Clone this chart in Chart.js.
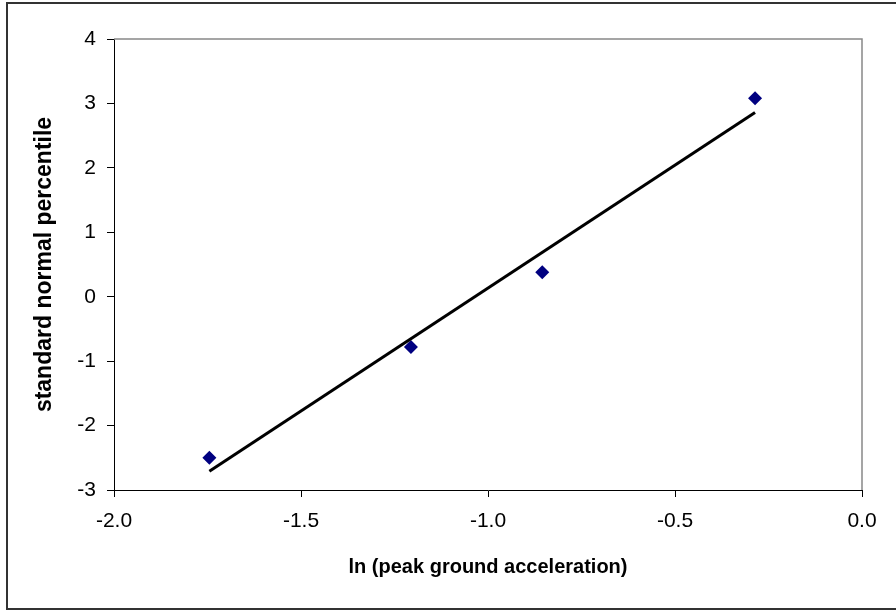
<!DOCTYPE html>
<html>
<head>
<meta charset="utf-8">
<script src="https://cdn.jsdelivr.net/npm/chart.js@4"></script>
<style>
  html, body { margin: 0; padding: 0; background: #fff; }
  #wrap { width: 896px; height: 611px; position: relative; }
</style>
</head>
<body>
<div id="wrap"><canvas id="chart" width="896" height="611"></canvas></div>
<script>
// observed points (ln PGA, standard normal percentile)
const lnPga = [-1.745, -1.206, -0.855, -0.286];
const percentile = [-2.5, -0.78, 0.38, 3.08];

// fitted line end points
const fitX = [-1.745, -0.286];
const fitY = [-2.71, 2.86];

const xTitle = 'ln (peak ground acceleration)';
const yTitle = 'standard normal percentile';

const pts = lnPga.map((x, i) => ({ x: x, y: percentile[i] }));
const fit = fitX.map((x, i) => ({ x: x, y: fitY[i] }));

// frame around the whole picture + grey top/right edge of plot area
const framePlugin = {
    id: 'frame',
    beforeDraw(chart) {
        const ctx = chart.ctx;
        ctx.save();
        ctx.fillStyle = '#fff';
        ctx.fillRect(0, 0, chart.width, chart.height);
        ctx.strokeStyle = '#333';
        ctx.lineWidth = 2;
        ctx.strokeRect(7, 3, 900, 606);
        ctx.restore();
    },
    afterDatasetsDraw(chart) {
        const a = chart.chartArea;
        const ctx = chart.ctx;
        ctx.save();
        ctx.strokeStyle = '#888';
        ctx.lineWidth = 1.5;
        ctx.beginPath();
        ctx.moveTo(a.left, a.top);
        ctx.lineTo(a.right, a.top);
        ctx.lineTo(a.right, a.bottom);
        ctx.stroke();
        ctx.restore();
    }
};

const tickFont = { family: 'Liberation Sans, Arial, sans-serif', size: 21 };
const xTitleFont = { family: 'Liberation Sans, Arial, sans-serif', size: 20, weight: 'bold' };
const yTitleFont = { family: 'Liberation Sans, Arial, sans-serif', size: 23, weight: 'bold' };

new Chart(document.getElementById('chart'), {
    type: 'scatter',
    data: {
        datasets: [
            {
                label: 'fit',
                data: fit,
                showLine: true,
                borderColor: '#000',
                borderWidth: 3,
                pointRadius: 0,
                fill: false
            },
            {
                label: 'data',
                data: pts,
                pointStyle: 'rectRot',
                pointRadius: 7,
                backgroundColor: '#000080',
                borderColor: '#000080',
                borderWidth: 0
            }
        ]
    },
    options: {
        responsive: false,
        animation: false,
        devicePixelRatio: 1,
        layout: { padding: { left: 0, top: 39, right: 34, bottom: 0 } },
        plugins: {
            legend: { display: false },
            tooltip: { enabled: false }
        },
        scales: {
            x: {
                type: 'linear',
                min: -2,
                max: 0,
                afterFit(scale) { scale.height = 121; },
                ticks: {
                    stepSize: 0.5,
                    color: '#000',
                    font: tickFont,
                    padding: 12,
                    callback: v => v.toFixed(1)
                },
                grid: { drawOnChartArea: false, drawTicks: true, tickLength: 7, color: '#000' },
                border: { display: true, color: '#000', width: 1 },
                title: {
                    display: true,
                    text: xTitle,
                    color: '#000',
                    font: xTitleFont,
                    padding: { top: 0, bottom: 32 }
                }
            },
            y: {
                type: 'linear',
                min: -3,
                max: 4,
                afterFit(scale) { scale.width = 114; },
                ticks: {
                    stepSize: 1,
                    color: '#000',
                    font: tickFont,
                    padding: 11
                },
                grid: { drawOnChartArea: false, drawTicks: true, tickLength: 7, color: '#000' },
                border: { display: true, color: '#000', width: 1 },
                title: {
                    display: true,
                    text: yTitle,
                    color: '#000',
                    font: yTitleFont,
                    padding: { top: 31, bottom: 0 }
                }
            }
        }
    },
    plugins: [framePlugin]
});
</script>
</body>
</html>
